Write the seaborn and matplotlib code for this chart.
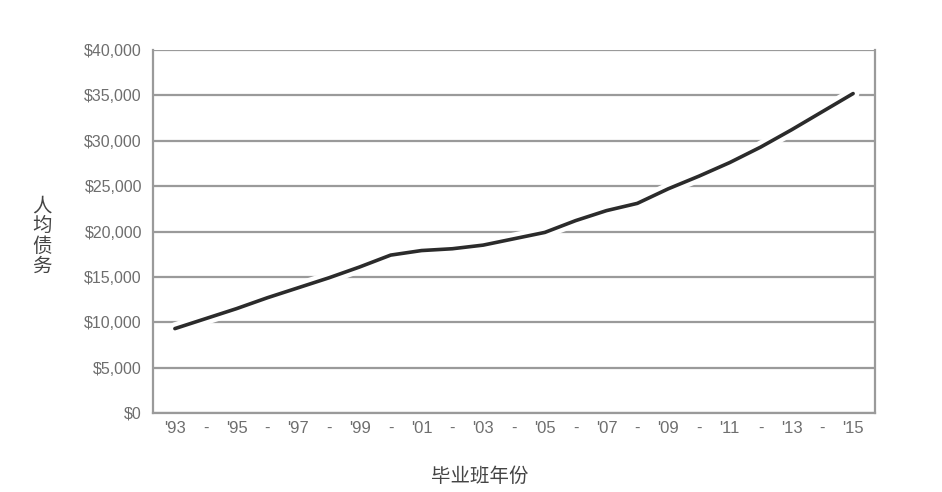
import matplotlib
matplotlib.use("Agg")
import matplotlib.pyplot as plt
import matplotlib.patheffects as pe
import seaborn as sns
import pandas as pd

years = list(range(1993, 2016))
debt = [9300, 10400, 11500, 12700, 13800, 14900, 16100, 17400, 17900, 18100,
        18500, 19200, 19900, 21200, 22300, 23100, 24700, 26100, 27600, 29300,
        31200, 33200, 35200]
tick_labels = [("'" + str(y)[2:]) if (y - 1993) % 2 == 0 else "-" for y in years]
ytick_vals = list(range(0, 40001, 5000))
ytick_labels = ["${:,}".format(v) for v in ytick_vals]

sns.set_theme(style="white")
plt.rcParams['font.family'] = ['Liberation Sans', 'Noto Sans CJK SC', 'DejaVu Sans']

fig = plt.figure(figsize=(9.42, 4.92), dpi=100)
ax = fig.add_axes([153/942, 1-413/492, (875-153)/942, (413-50)/492])

df = pd.DataFrame({"year": years, "debt": debt})
for v in ytick_vals:
    ax.axhline(v, color="#9a9a9a", lw=1.6, zorder=1)

sns.lineplot(data=df, x="year", y="debt", ax=ax, color="#2b2b2b", lw=2.6, zorder=3,
             path_effects=[pe.Stroke(linewidth=9, foreground="white"), pe.Normal()])

ax.set_xlim(1992.29, 2015.71)
ax.set_ylim(0, 40000)
ax.set_xticks(years)
ax.set_xticklabels(tick_labels, color="#6e6e6e", fontsize=12)
ax.set_yticks(ytick_vals)
ax.set_yticklabels(ytick_labels, color="#6e6e6e", fontsize=11.5)
ax.tick_params(axis="both", length=0, pad=8)
ax.tick_params(axis="x", pad=6)
ax.set_xlabel("")
ax.set_ylabel("")
for s in ["left", "right", "bottom"]:
    ax.spines[s].set_color("#9a9a9a")
    ax.spines[s].set_linewidth(1.6)
ax.spines["top"].set_visible(False)
ax.grid(False)

fig.text(42/942, 1-236/492, "\n".join("人均债务"), ha="center", va="center",
         fontsize=14, color="#444444", family=['Noto Sans CJK SC', 'DejaVu Sans'],
         linespacing=0.95)
fig.text(480/942, 1-476/492, "毕业班年份", ha="center", va="center",
         fontsize=14, color="#444444", family=['Noto Sans CJK SC', 'DejaVu Sans'])

fig.savefig("out.png", dpi=100)
